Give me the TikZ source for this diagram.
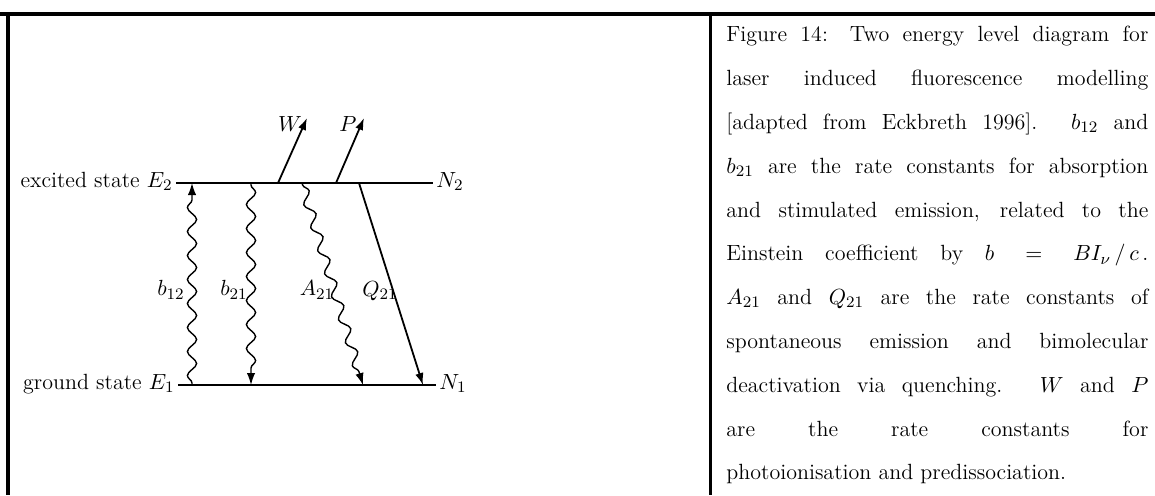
\documentclass[tikz,border=0pt]{standalone}
\usepackage{amsmath}
\usepackage{tikz}
\usetikzlibrary{
  arrows.meta,              % Latex 箭头
  decorations.pathmorphing, % 波浪线
  positioning               % 节点相对定位
}
\tikzset{
  level line/.style={line width=0.75pt},
  jump arrow/.style={
    -{Latex[length=6pt,width=4.2pt]},
    line width=0.9pt
  },
  wave arrow/.style={
    -{Latex[length=6pt,width=4.2pt]},
    line width=0.7pt,
    decorate,
    decoration={snake, segment length=12pt, amplitude=2.3pt,
      pre length=1pt, post length=6pt}
  },
  state label/.style={font=\fontsize{11}{13}\selectfont, inner sep=1.5pt},
  rate label/.style={font=\fontsize{11}{13}\selectfont, inner sep=0pt},
  caption text/.style={
    font=\fontsize{11}{21.9}\selectfont,
    text width=211pt,
    align=justify,
    inner sep=0pt,
    anchor=north west
  }
}
\newcommand\capline[1]{\hbox to\hsize{\spaceskip=0pt\xspaceskip=0pt #1}\par}

\begin{document}
\begin{tikzpicture}[x=0.5pt, y=-0.5pt]
  \useasboundingbox (0,0) rectangle (1155,495);

  % 1. 外框
  \draw[line width=2pt] (0,14) -- (1155,14);
  \draw[line width=1.75pt] (8,12) -- (8,495);
  \draw[line width=1.25pt] (710.5,14) -- (710.5,495);

  % 2. 两个能级
  \coordinate (E2 left)  at (176,183);
  \coordinate (E2 right) at (433,183);
  \coordinate (E1 left)  at (178,385);
  \coordinate (E1 right) at (436,385);
  \draw[level line] (E2 left) -- (E2 right);
  \draw[level line] (E1 left) -- (E1 right);
  \node[state label, anchor=mid east] (E2 lab) at (E2 left) {excited state $E_2$};
  \node[state label, anchor=mid east] (E1 lab) at (E1 left) {ground state $E_1$};
  \node[state label, anchor=mid west] (N2 lab) at (E2 right) {$N_2$};
  \node[state label, anchor=mid west] (N1 lab) at (E1 right) {$N_1$};

  % 3. 能级间跃迁
  \coordinate (b12 lo) at (192,385);
  \coordinate (b12 hi) at (192,183);
  \coordinate (b21 hi) at (251,183);
  \coordinate (b21 lo) at (251,385);
  \coordinate (A21 hi) at (302,183);
  \coordinate (A21 lo) at (363,385);
  \coordinate (Q21 hi) at (359,183);
  \coordinate (Q21 lo) at (423,385);
  \draw[wave arrow] (b12 lo) -- (b12 hi);
  \draw[wave arrow] (b21 hi) -- (b21 lo);
  \draw[wave arrow] (A21 hi) -- (A21 lo);
  \draw[jump arrow] (Q21 hi) -- (Q21 lo);
  \node[rate label] (b12) at (171,290) {$b_{12}$};
  \node[rate label] (b21) at (234,290) {$b_{21}$};
  \node[rate label] (A21) at (317,290) {$A_{21}$};
  \node[rate label] (Q21) at (380,291) {$Q_{21}$};

  % 4. 光电离与预离解
  \coordinate (W foot) at (278,183);
  \coordinate (W tip)  at (307,118);
  \coordinate (P foot) at (336,183);
  \coordinate (P tip)  at (364,118);
  \draw[jump arrow] (W foot) -- (W tip);
  \draw[jump arrow] (P foot) -- (P tip);
  \node[rate label] (W) at (290,124) {$W$};
  \node[rate label] (P) at (348,124) {$P$};

  % 5. 图注
  \node[caption text] (caption) at (726,26) {\noindent
    \capline{Figure 14: Two energy level diagram for}
    \capline{laser induced fluorescence modelling}
    \capline{[adapted from Eckbreth 1996]. $b_{12}$ and}
    \capline{$b_{21}$ are the rate constants for absorption}
    \capline{and stimulated emission, related to the}
    \capline{Einstein coefficient by $b = BI_{\nu} \,/\, c$\,.}
    \capline{$A_{21}$ and $Q_{21}$ are the rate constants of}
    \capline{spontaneous emission and bimolecular}
    \capline{deactivation via quenching. $W$ and $P$}
    \capline{are the rate constants for}
    \noindent photoionisation and predissociation.};
\end{tikzpicture}
\end{document}
